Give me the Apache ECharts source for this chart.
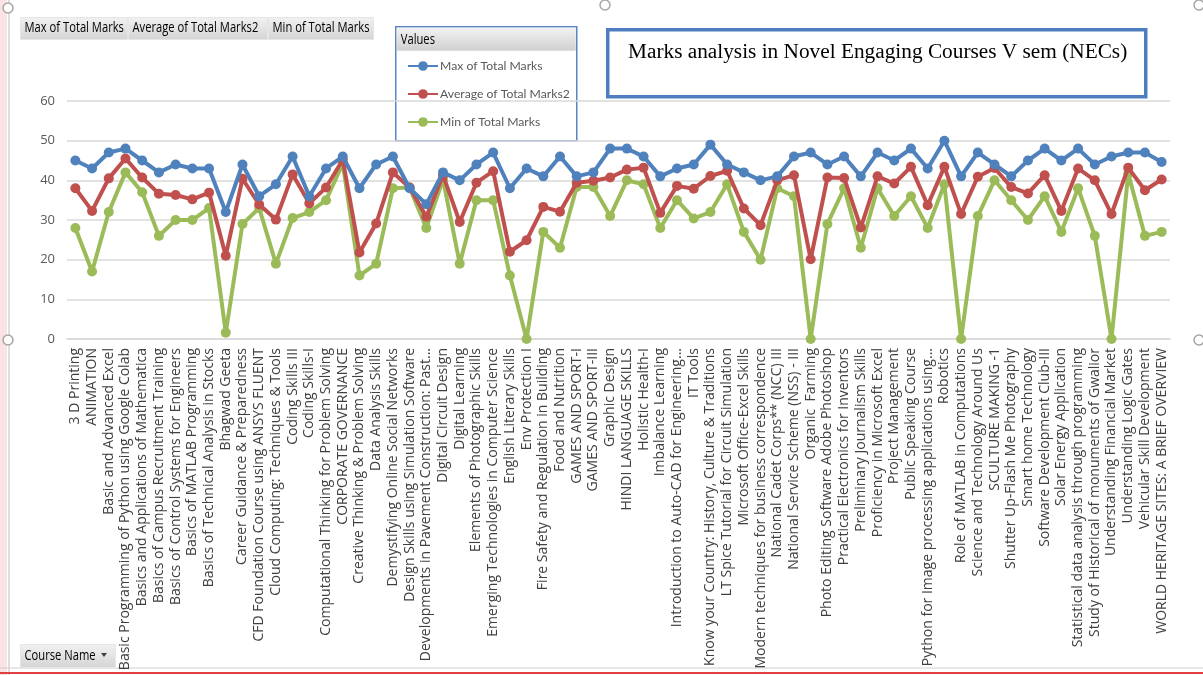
<!DOCTYPE html>
<html>
<head>
<meta charset="utf-8">
<script src="https://cdn.jsdelivr.net/npm/echarts@6/dist/echarts.min.js"></script>
<style>
html,body{margin:0;padding:0;background:#fff;}
#chart{width:1203px;height:675px;}
</style>
</head>
<body>
<div id="chart"></div>
<script>
const categories = [
"3 D Printing","ANIMATION","Basic and Advanced Excel","Basic Programming of Python using Google Colab",
"Basics and Applications of Mathematica","Basics of Campus Recruitment Training","Basics of Control Systems for Engineers",
"Basics of MATLAB Programming","Basics of Technical Analysis in Stocks","Bhagwad Geeta","Career Guidance & Preparedness",
"CFD Foundation Course using ANSYS FLUENT","Cloud Computing: Techniques & Tools","Coding Skills III","Coding Skills-I",
"Computational Thinking for Problem Solving","CORPORATE GOVERNANCE","Creative Thinking & Problem Solving","Data Analysis Skills",
"Demystifying Online Social Networks","Design Skills using Simulation Software","Developments in Pavement Construction: Past...",
"Digital Circuit Design","Digital Learning","Elements of Photographic Skills","Emerging Technologies in Computer Science",
"English Literary Skills","Env Protection I","Fire Safety and Regulation in Building","Food and Nutrition","GAMES AND SPORT-I",
"GAMES AND SPORT-III","Graphic Design","HINDI LANGUAGE SKILLS","Holistic Health-I","Imbalance Learning",
"Introduction to Auto-CAD for Engineering...","IT Tools","Know your Country: History, Culture & Traditions",
"LT Spice Tutorial for Circuit Simulation","Microsoft Office-Excel Skills","Modern techniques for business correspondence",
"National Cadet Corps** (NCC) III","National Service Scheme (NSS) - III","Organic  Farming","Photo Editing Software Adobe Photoshop",
"Practical Electronics for Inventors","Preliminary Journalism Skills","Proficiency in Microsoft Excel","Project Management",
"Public Speaking Course","Python for Image processing applications using...","Robotics","Role of MATLAB in Computations",
"Science and Technology Around Us","SCULTURE MAKING -1","Shutter Up-Flash Me Photography","Smart home Technology",
"Software Development Club-III","Solar Energy Application","Statistical data analysis through programming",
"Study of Historical of monuments of Gwalior","Understanding Financial Market","Understanding Logic Gates",
"Vehicular Skill Development","WORLD HERITAGE SITES: A BRIEF OVERVIEW"
];
const maxMarks = [45,43,47,48,45,42,44,43,43,32,44,36,39,46,36,43,46,38,44,46,38,34,42,40,44,47,38,43,41,46,41,42,48,48,46,41,43,44,49,44,42,40,41,46,47,44,46,41,47,45,48,43,50,41,47,44,41,45,48,45,48,44,46,47,47,44.6];
const avgMarks = [38,32.3,40.5,45.5,40.7,36.6,36.3,35.2,36.9,21,40.4,33.9,30.1,41.5,34.2,38.2,45.2,21.8,29.1,42,38.2,30.8,41.3,29.5,39.4,42.3,22,24.9,33.3,32.1,39.4,39.9,40.7,42.7,43.2,31.8,38.6,37.9,41.1,42.4,32.9,28.7,40,41.3,20.1,40.7,40.6,28.1,41,39.2,43.4,33.7,43.4,31.5,40.9,43.1,38.3,36.7,41.3,32.3,43,40,31.5,43.2,37.5,40.2];
const minMarks = [28,17,32,42,37,26,30,30,33,1.6,29,33,19,30.5,32,35,44.2,16,19,38,38.2,28,40.2,19,35,35,16,0,27,23,38.3,38.3,31,40,39,28,35,30.4,32,39,27,20,38,36,0,29,38,23,38,31,36,28,39,0,31,40,35,30,36,27,38,26,0,41.7,26,27];
const seriesNames = ["Max of Total Marks","Average of Total Marks2","Min of Total Marks"];
const yTicks = [0,10,20,30,40,50,60];

const colors = ['#4F81BD','#C0504D','#9BBB59'];
const chart = echarts.init(document.getElementById('chart'));

function btn(x, y, w, h, text){
  return {
    type:'group', left:x, top:y,
    children:[
      {type:'rect', shape:{x:0,y:0,width:w,height:h},
       style:{fill:new echarts.graphic.LinearGradient(0,0,0,1,[{offset:0,color:'#F2F2F2'},{offset:1,color:'#D4D4D4'}]), stroke:'#E6E6E6', lineWidth:1}},
      {type:'text', x:4, y:h/2, scaleX:0.8, style:{x:0, y:0, text:text, fill:'#000', font:'14px "Open Sans", sans-serif', textVerticalAlign:'middle'}}
    ]
  };
}

const series = [maxMarks, avgMarks, minMarks].map((d,i)=>({
  name: seriesNames[i], type:'line', data:d,
  symbol:'circle', symbolSize:10,
  lineStyle:{width:4, color:colors[i]},
  itemStyle:{color:colors[i]},
  z: 10 - i,
  animation:false
}));

chart.setOption({
  animation:false,
  backgroundColor:'#ffffff',
  grid:{left:67, right:33, top:101, bottom:336, containLabel:false},
  legend:{
    orient:'vertical', left:402, top:55, itemGap:16, itemWidth:30, itemHeight:12,
    data:seriesNames,
    textStyle:{color:'#595959', fontSize:12.2, fontFamily:'Lato, sans-serif', padding:[0,0,0,-3]}
  },
  xAxis:{
    type:'category', data:categories, boundaryGap:true,
    axisTick:{show:false},
    axisLine:{lineStyle:{color:'#D9D9D9', width:1.5}},
    axisLabel:{interval:0, rotate:90, color:'#404040', fontSize:14, fontFamily:'"Open Sans", sans-serif', margin:9}
  },
  yAxis:{
    type:'value', min:0, max:60, interval:10,
    axisLine:{show:false}, axisTick:{show:false},
    splitLine:{lineStyle:{color:'#D9D9D9', width:1.5}},
    axisLabel:{color:'#595959', fontSize:13, fontFamily:'"Open Sans", sans-serif', margin:12}
  },
  series: series,
  graphic:[
    {type:'rect', left:0, top:0, shape:{width:7,height:675}, style:{fill:'#FBE3E3'}, z:-1},
    {type:'line', shape:{x1:9,y1:0,x2:9,y2:675}, style:{stroke:'#BFBFBF', lineWidth:1}},
    {type:'line', shape:{x1:0,y1:668,x2:1203,y2:668}, style:{stroke:'#D0D0D0', lineWidth:1}},
    {type:'line', shape:{x1:0,y1:673,x2:1203,y2:673}, style:{stroke:'#E04040', lineWidth:2}},
    btn(20,17,107,22,'Max of Total Marks'),
    btn(128,17,139,22,'Average of Total Marks2'),
    btn(268,17,105,22,'Min of Total Marks'),
    btn(20,644,95,23,'Course Name'),
    {type:'polygon', shape:{points:[[101,653],[107,653],[104,657]]}, style:{fill:'#404040'}, z:100},
    {type:'group', left:395, top:26, children:[
      {type:'rect', shape:{x:0,y:0,width:181,height:114}, style:{fill:'#fff', stroke:'#5B84C4', lineWidth:1.5}},
      {type:'rect', shape:{x:1,y:1,width:179,height:23}, style:{fill:new echarts.graphic.LinearGradient(0,0,0,1,[{offset:0,color:'#F2F2F2'},{offset:1,color:'#D0D0D0'}])}},
      {type:'text', x:5, y:13, scaleX:0.8, style:{x:0, y:0, text:'Values', fill:'#000', font:'14px "Open Sans",sans-serif', textVerticalAlign:'middle'}}
    ], z:-0.5},
    {type:'rect', left:606, top:28, shape:{width:538,height:67}, style:{fill:'#fff', stroke:'#4F7EC0', lineWidth:3.5}},
    {type:'text', left:628, top:42, style:{text:'Marks analysis in Novel Engaging Courses V sem (NECs)', fill:'#000', font:'21.3px "Liberation Serif", "DejaVu Serif", serif'}},
    {type:'circle', shape:{cx:8,cy:8,r:5}, style:{fill:'#fff', stroke:'#A6A6A6', lineWidth:1.5}},
    {type:'circle', shape:{cx:605,cy:5,r:5}, style:{fill:'#fff', stroke:'#A6A6A6', lineWidth:1.5}},
    {type:'circle', shape:{cx:1199,cy:5,r:5}, style:{fill:'#fff', stroke:'#A6A6A6', lineWidth:1.5}},
    {type:'circle', shape:{cx:8,cy:340,r:5}, style:{fill:'#fff', stroke:'#A6A6A6', lineWidth:1.5}},
    {type:'circle', shape:{cx:1199,cy:340,r:5}, style:{fill:'#fff', stroke:'#A6A6A6', lineWidth:1.5}}
  ]
});
</script>
</body>
</html>
